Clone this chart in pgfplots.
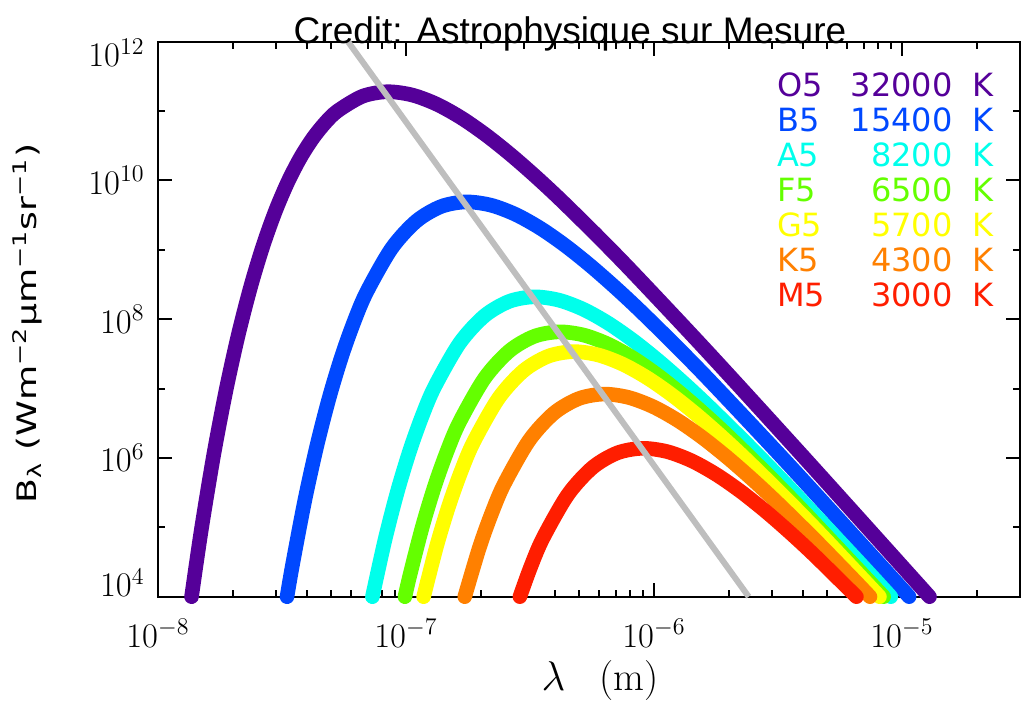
\documentclass[border=0pt]{standalone}
\usepackage{fontspec}
\usepackage{graphicx}
\usepackage{pgfplots}
\pgfplotsset{compat=1.18}
\newfontfamily\sansfont{DejaVu Sans}
\newfontfamily\titlefont{Liberation Sans}
\definecolor{cO}{RGB}{85,0,153}
\definecolor{cB}{RGB}{0,72,255}
\definecolor{cA}{RGB}{0,255,235}
\definecolor{cF}{RGB}{100,255,0}
\definecolor{cG}{RGB}{255,255,0}
\definecolor{cK}{RGB}{255,128,0}
\definecolor{cM}{RGB}{255,30,0}
\definecolor{cgrey}{RGB}{190,190,190}
\tikzset{leg/.style={anchor=base west, inner sep=0pt, font=\sansfont\fontsize{16}{18}\selectfont}}
\newcommand{\legrow}[4]{%
  \node[leg,text=#1] at ([xshift=309.35pt,yshift=#4]current axis.south west) {#2};
  \node[leg,text=#1,anchor=base east] at ([xshift=397.5pt,yshift=#4]current axis.south west) {#3};
  \node[leg,text=#1] at ([xshift=406.85pt,yshift=#4]current axis.south west) {K};}
\begin{document}
\begin{tikzpicture}
\begin{axis}[
  scale only axis,
  width=431.15pt, height=277.5pt,
  xmode=log, ymode=log,
  xmin=1e-8, xmax=3e-5, ymin=1e4, ymax=1e12,
  clip=false,
  axis line style={line width=1pt},
  tick align=inside,
  xtick={1e-8,1e-7,1e-6,1e-5},
  minor xtick={2e-8,3e-8,4e-8,5e-8,6e-8,7e-8,8e-8,9e-8,2e-7,3e-7,4e-7,5e-7,6e-7,7e-7,8e-7,9e-7,2e-6,3e-6,4e-6,5e-6,6e-6,7e-6,8e-6,9e-6,2e-5,3e-5},
  ytick={1e4,1e6,1e8,1e10,1e12},
  minor ytick={1e5,1e7,1e9,1e11},
  yticklabels={{\raisebox{7pt}[0pt][0pt]{$10^{4}$}\vphantom{$10^{4}$}},{$10^{6}$},{$10^{8}$},{$10^{10}$},{\raisebox{-5.5pt}[0pt][0pt]{$10^{12}$}\vphantom{$10^{12}$}}},
  major tick length=7pt, minor tick length=3.5pt,
  every tick/.append style={line width=1pt, black},
  tick label style={font=\fontsize{18}{20}\selectfont},
  xticklabel style={inner sep=0pt, yshift=-11pt},
  yticklabel style={inner sep=0pt, xshift=-6.5pt},
  xlabel={$\lambda$\hspace{17pt}(m)},
  every axis x label/.style={at={(axis description cs:0.5126,0)}, anchor=base, yshift=-46.65pt, font=\fontsize{20}{22}\selectfont},
  ylabel={\scalebox{1.35}[1]{B\textsubscript{λ} (Wm\textsuperscript{−2}μm\textsuperscript{−1}sr\textsuperscript{−1})}},
  every axis y label/.style={at={(axis description cs:-0.14067,0.49225)}, rotate=90, anchor=base, font=\sansfont\fontsize{13.4}{15}\selectfont},
  title={Credit: Astrophysique sur Mesure},
  every axis title/.style={at={(axis description cs:0.4778,1)}, anchor=base, yshift=-0.9pt, font=\titlefont\fontsize{18.5}{20}\selectfont},
  every axis plot/.append style={line width=7.3pt, line cap=round, line join=round, mark=none, smooth, tension=0.5},
]
% O5 32000 K
\addplot[cO] coordinates {
(1.2914e-5,1e4) (4.2139e-6,8.525e5) (1.6776e-6,3.140e7) (8.4078e-7,4.357e8)
(5.9522e-7,1.548e9) (4.2139e-7,5.218e9) (3.3472e-7,1.1244e10) (2.6588e-7,2.3116e10)
(2.1119e-7,4.462e10) (1.6776e-7,7.915e10) (1.3325e-7,1.2532e11) (1.0585e-7,1.7054e11)
(8.4078e-8,1.9005e11) (6.6785e-8,1.6337e11) (5.3049e-8,1.0060e11) (4.7280e-8,6.7922e10)
(4.2139e-8,4.0708e10) (3.7556e-8,2.1366e10)
(3.3472e-8,9.664e9) (2.9832e-8,3.6985e9) (2.6588e-8,1.1736e9) (2.3696e-8,3.017e8)
(2.1119e-8,6.127e7) (1.8823e-8,9.549e6) (1.6776e-8,1.1056e6) (1.4951e-8,9.173e4)
(1.3658e-8,1e4)};
% B5 15400 K
\addplot[cB] coordinates {
(1.0689e-5,1e4) (8.7561e-6,2.2007e4) (3.4859e-6,8.105e5) (1.7471e-6,1.1248e7)
(1.2368e-6,3.9966e7) (8.7561e-7,1.3470e8) (6.9552e-7,2.9025e8) (5.5247e-7,5.967e8)
(4.3884e-7,1.1518e9) (3.4859e-7,2.0431e9) (2.7689e-7,3.2350e9) (2.1994e-7,4.4023e9)
(1.7471e-7,4.9059e9) (1.3877e-7,4.2173e9) (1.1023e-7,2.5995e9) (8.7561e-8,1.0508e9)
(6.9552e-8,2.4946e8) (6.1988e-8,9.547e7) (5.5247e-8,3.0294e7) (4.9239e-8,7.789e6)
(4.3884e-8,1.5817e6) (3.9112e-8,2.4650e5) (3.4859e-8,2.8540e4) (3.3144e-8,1e4)};
% A5 8200 K
\addplot[cA] coordinates {
(9.0143e-6,1e4) (6.5470e-6,3.4682e4) (3.2813e-6,4.813e5) (2.3229e-6,1.7102e6)
(1.6445e-6,5.7638e6) (1.3063e-6,1.2420e7) (1.0376e-6,2.5534e7) (8.2421e-7,4.9288e7)
(6.5470e-7,8.7426e7) (5.2004e-7,1.3843e8) (4.1308e-7,1.8838e8) (3.2813e-7,2.0993e8)
(2.6064e-7,1.8046e8) (2.0703e-7,1.1123e8) (1.6445e-7,4.4966e7) (1.3063e-7,1.0675e7)
(1.1642e-7,4.0854e6) (1.0376e-7,1.2963e6) (9.2478e-8,3.3330e5) (8.2421e-8,6.768e4)
(7.3234e-8,1e4)};
% F5 6500 K
\addplot[cF] coordinates {
(8.4363e-6,1e4) (4.1390e-6,1.5072e5) (2.9301e-6,5.3554e5) (2.0744e-6,1.8049e6)
(1.6477e-6,3.8893e6) (1.3088e-6,7.9958e6) (1.0397e-6,1.5434e7) (8.2583e-7,2.7377e7)
(6.5598e-7,4.3348e7) (5.2106e-7,5.8990e7) (4.1390e-7,6.5738e7) (3.2877e-7,5.6511e7)
(2.6115e-7,3.4832e7) (2.0744e-7,1.4081e7) (1.6477e-7,3.3427e6) (1.4686e-7,1.2793e6)
(1.3088e-7,4.0593e5) (1.1665e-7,1.0437e5) (1.0397e-7,2.1195e4) (9.9031e-8,1e4)};
% G5 5700 K
\addplot[cG] coordinates {
(8.1152e-6,1e4) (4.7201e-6,7.8141e4) (3.3416e-6,2.7764e5) (2.3656e-6,9.3575e5)
(1.8791e-6,2.0164e6) (1.4926e-6,4.1454e6) (1.1856e-6,8.0018e6) (9.4178e-7,1.4194e7)
(7.4808e-7,2.2473e7) (5.9422e-7,3.0583e7) (4.7201e-7,3.4082e7) (3.7493e-7,2.9297e7)
(2.9782e-7,1.8058e7) (2.3656e-7,7.3001e6) (1.8791e-7,1.7330e6) (1.6748e-7,6.6325e5)
(1.4926e-7,2.1045e5) (1.3303e-7,5.4110e4) (1.1782e-7,1e4)};
% K5 4300 K
\addplot[cK] coordinates {
(7.4336e-6,1e4) (6.2572e-6,1.9087e4) (4.4298e-6,6.7817e4) (3.1360e-6,2.2857e5)
(2.4910e-6,4.9251e5) (1.9787e-6,1.0125e6) (1.5717e-6,1.9545e6) (1.2485e-6,3.4669e6)
(9.9170e-7,5.4893e6) (7.8774e-7,7.4702e6) (6.2572e-7,8.3247e6) (4.9703e-7,7.1562e6)
(3.9480e-7,4.4109e6) (3.1360e-7,1.7831e6) (2.4910e-7,4.2330e5) (2.2201e-7,1.6201e5)
(1.9787e-7,5.1404e4) (1.7260e-7,1e4)};
% M5 3000 K
\addplot[cM] coordinates {
(6.5535e-6,1e4) (4.4948e-6,3.7789e4) (3.5703e-6,8.1427e4)
(2.8360e-6,1.6740e5) (2.2527e-6,3.2314e5) (1.7894e-6,5.7318e5) (1.4214e-6,9.0755e5)
(1.1290e-6,1.2350e6) (8.9683e-7,1.3763e6) (7.1238e-7,1.1831e6) (5.6586e-7,7.2926e5)
(4.4948e-7,2.9480e5) (3.5703e-7,6.9984e4) (3.1821e-7,2.6784e4) (2.8794e-7,1e4)};
% Wien displacement locus
\addplot[cgrey, line width=3pt, line cap=butt, sharp plot] coordinates {(5.84e-8,1e12) (2.41e-6,1e4)};
\end{axis}
\pgfresetboundingbox
\path[use as bounding box] ([xshift=-79pt,yshift=-52.65pt]current axis.south west) rectangle ([xshift=0.85pt,yshift=20.85pt]current axis.north east);
\legrow{cO}{O5}{32000}{250pt}
\legrow{cB}{B5}{15400}{232.5pt}
\legrow{cA}{A5}{8200}{215pt}
\legrow{cF}{F5}{6500}{197.5pt}
\legrow{cG}{G5}{5700}{180pt}
\legrow{cK}{K5}{4300}{162.5pt}
\legrow{cM}{M5}{3000}{145pt}
\end{tikzpicture}
\end{document}
